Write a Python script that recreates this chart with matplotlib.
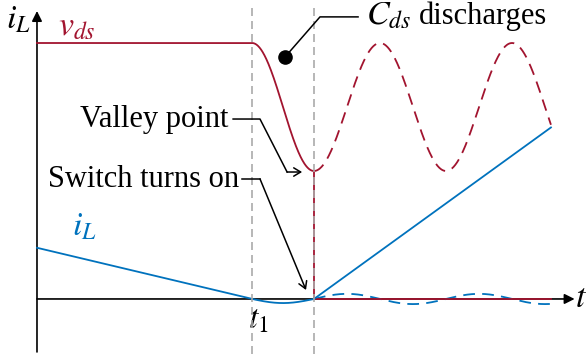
import matplotlib.pyplot as plt
import numpy as np

plt.rcParams['font.family'] = ['Liberation Serif', 'DejaVu Serif']
plt.rcParams['mathtext.fontset'] = 'stix'

# Waveform parameters (normalised units)
t1 = 10.0          # C_ds starts discharging
t_on = 12.88       # valley / switch turns on
t_end = 23.9
ring_period = 6.14
v_high = 10.0
v_valley = 5.0
i_start = 2.0      # i_L at t = 0
i_end = 6.7        # i_L at t_end
i_dip = 0.16       # negative excursion of i_L between t1 and t_on
i_ring = 0.2       # amplitude of the ringing current if the switch stayed off

red = '#A2142F'
blue = '#0072BD'
grey = '#aaaaaa'

fig = plt.figure(figsize=(5.86, 3.54), dpi=100)
ax = fig.add_axes([0, 0, 1, 1])
ax.set_xlim(-1.72, 25.53)
ax.set_ylim(-2.15, 11.68)
ax.axis('off')

# v_ds: flat, resonant fall to the valley, then hard turn-on
t_a = np.linspace(0, t1, 50)
t_b = np.linspace(t1, t_on, 200)
t_c = np.linspace(t_on, t_end, 400)
v_mid = (v_high + v_valley) / 2
v_amp = (v_high - v_valley) / 2
v_fall = v_mid + v_amp * np.cos(np.pi * (t_b - t1) / (t_on - t1))
ax.plot(np.r_[t_a, t_b], np.r_[np.full_like(t_a, v_high), v_fall], color=red, lw=1.3, zorder=3)
ax.plot([t_on, t_on, t_end], [v_valley, 0, 0], color=red, lw=1.3, zorder=3)
v_ring = v_mid - v_amp * np.cos(2 * np.pi * (t_c - t_on) / ring_period)
ax.plot(t_c, v_ring, color=red, lw=1.3, ls=(0, (6.5, 4)), zorder=3)

# i_L: linear decay, small negative dip, then ramp after turn-on
i_a = i_start * (1 - t_a / t1)
i_b = -i_dip * np.sin(np.pi * (t_b - t1) / (t_on - t1))
ax.plot(np.r_[t_a, t_b], np.r_[i_a, i_b], color=blue, lw=1.3, zorder=3)
ax.plot([t_on, t_end], [0, i_end], color=blue, lw=1.3, zorder=3)
i_ringing = i_ring * np.sin(2 * np.pi * (t_c - t_on) / ring_period)
ax.plot(t_c, i_ringing, color=blue, lw=1.3, ls=(0, (6.5, 4)), zorder=2)

# time markers
for tm in (t1, t_on):
    ax.plot([tm, tm], [-2.15, 11.4], color=grey, lw=1.2, ls=(0, (4.8, 3)), zorder=4)

# axes with arrow heads
axis_arrow = dict(arrowstyle='-|>,head_length=0.6,head_width=0.3', color='black', lw=1.2,
                  shrinkA=0, shrinkB=0)
ax.annotate('', xy=(25.0, 0), xytext=(0, 0), arrowprops=axis_arrow, zorder=1)
ax.annotate('', xy=(0, 11.25), xytext=(0, -2.07), arrowprops=axis_arrow, zorder=1)

fs = 22
fm = 24.5
ax.text(-0.88, 10.9, r'$i_L$', fontsize=fm, ha='center', va='center')
ax.text(25.3, 0.0, r'$t$', fontsize=fm, ha='center', va='center')
ax.text(10.28, -0.85, r'$t_1$', fontsize=fm, ha='center', va='center')
ax.text(1.86, 10.6, r'$v_{ds}$', fontsize=fm, ha='center', va='center', color=red)
ax.text(2.2, 2.8, r'$i_L$', fontsize=fm, ha='center', va='center', color=blue)

# callouts
line_kw = dict(color='black', lw=1.1, zorder=5)
open_head = dict(arrowstyle='->,head_length=0.5,head_width=0.3', color='black', lw=1.1,
                 shrinkA=0, shrinkB=0)

ax.text(15.3, 11.05, r'$C_{ds}$', fontsize=fm, ha='left', va='center')
ax.text(17.75, 11.05, 'discharges', fontsize=fs, ha='left', va='center')
ax.plot([14.93, 13.16, 11.53], [11.02, 11.02, 9.45], **line_kw)
ax.plot(11.53, 9.45, 'o', color='black', ms=9.5, zorder=5)

ax.text(8.88, 7.0, 'Valley point', fontsize=fs, ha='right', va='center')
ax.plot([9.12, 10.37, 11.63], [7.03, 7.03, 4.96], **line_kw)
ax.annotate('', xy=(12.33, 4.96), xytext=(11.63, 4.96), arrowprops=open_head, zorder=5)

ax.text(9.4, 4.65, 'Switch turns on', fontsize=fs, ha='right', va='center')
ax.plot([9.53, 10.37], [4.69, 4.69], **line_kw)
ax.annotate('', xy=(12.51, 0.35), xytext=(10.37, 4.69), arrowprops=open_head, zorder=5)

plt.savefig('out.png', dpi=100)
